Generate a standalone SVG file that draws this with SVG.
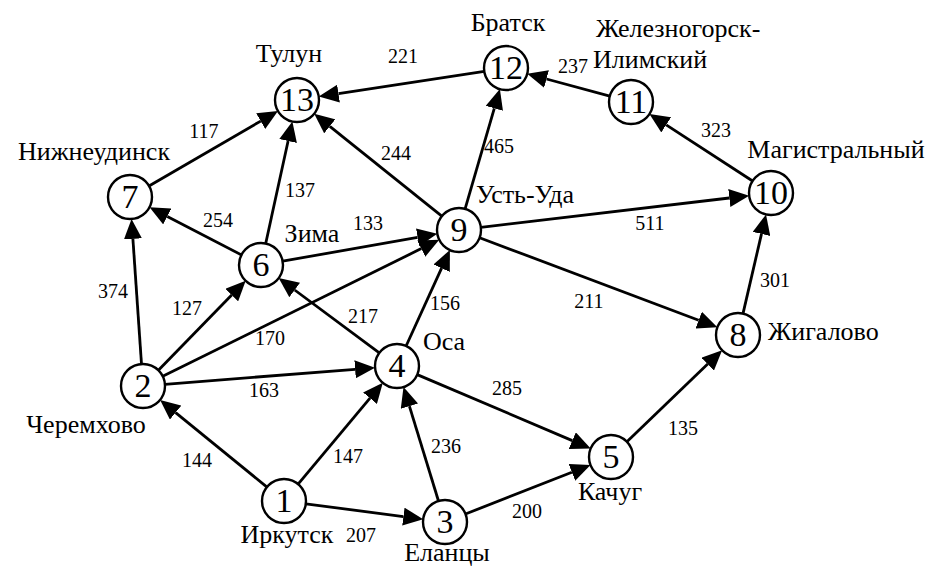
<svg xmlns="http://www.w3.org/2000/svg" width="938" height="567" viewBox="0 0 938 567" font-family="Liberation Serif">
<defs>
<marker id="ah" markerUnits="userSpaceOnUse" markerWidth="20" markerHeight="18" viewBox="0 -9 20 18" refX="0" refY="0" orient="auto">
<path d="M0,-9 L20,0 L0,9 z" fill="#000"/>
</marker>
</defs>
<rect x="0" y="0" width="938" height="567" fill="#fff"/>
<g id="connectors" stroke="#000" stroke-width="2.8" fill="none" marker-end="url(#ah)">
<line x1="484.3" y1="71.3" x2="338.5" y2="93.6"/>
<line x1="609.8" y1="96.2" x2="546.5" y2="79.0"/>
<line x1="752.6" y1="181.0" x2="666.2" y2="124.9"/>
<line x1="465.1" y1="208.9" x2="494.3" y2="108.3"/>
<line x1="441.8" y1="216.2" x2="329.8" y2="126.3"/>
<line x1="480.8" y1="227.4" x2="729.3" y2="198.0"/>
<line x1="479.6" y1="237.7" x2="698.7" y2="320.2"/>
<line x1="743.0" y1="313.6" x2="761.5" y2="233.9"/>
<line x1="149.0" y1="186.0" x2="260.7" y2="121.1"/>
<line x1="265.7" y1="243.5" x2="288.1" y2="141.0"/>
<line x1="241.5" y1="254.9" x2="167.3" y2="216.4"/>
<line x1="282.7" y1="261.2" x2="417.6" y2="237.3"/>
<line x1="141.5" y1="364.0" x2="132.9" y2="238.9"/>
<line x1="158.4" y1="370.2" x2="231.7" y2="295.1"/>
<line x1="162.7" y1="376.3" x2="421.3" y2="248.6"/>
<line x1="164.9" y1="384.3" x2="355.1" y2="369.3"/>
<line x1="379.3" y1="352.9" x2="294.7" y2="290.0"/>
<line x1="406.1" y1="346.0" x2="441.6" y2="268.2"/>
<line x1="417.2" y1="374.6" x2="572.3" y2="440.6"/>
<line x1="267.0" y1="487.1" x2="175.6" y2="412.6"/>
<line x1="298.1" y1="484.1" x2="370.0" y2="398.2"/>
<line x1="305.8" y1="503.8" x2="403.4" y2="516.6"/>
<line x1="438.5" y1="501.0" x2="409.4" y2="406.2"/>
<line x1="465.5" y1="514.0" x2="571.9" y2="472.3"/>
<line x1="626.9" y1="441.8" x2="707.7" y2="364.1"/>
</g>
<g id="weights" fill="#000" font-family="Liberation Serif" font-size="20" text-anchor="middle">
<text x="403" y="63">221</text>
<text x="573" y="73">237</text>
<text x="716" y="137">323</text>
<text x="499" y="153">465</text>
<text x="204" y="138">117</text>
<text x="396" y="160">244</text>
<text x="300" y="197">137</text>
<text x="218" y="227">254</text>
<text x="368" y="230">133</text>
<text x="650" y="230">511</text>
<text x="775" y="287">301</text>
<text x="113" y="298">374</text>
<text x="589" y="308">211</text>
<text x="187" y="315">127</text>
<text x="445" y="310">156</text>
<text x="363" y="323">217</text>
<text x="270" y="345">170</text>
<text x="264" y="397">163</text>
<text x="507" y="395">285</text>
<text x="683" y="435">135</text>
<text x="446" y="453">236</text>
<text x="348" y="463">147</text>
<text x="197" y="467">144</text>
<text x="527" y="518">200</text>
<text x="361" y="542">207</text>
</g>
<g id="nodes" font-family="Liberation Serif" font-size="34" text-anchor="middle">
<g id="node1"><circle cx="284" cy="501" r="22" fill="#fff" stroke="#000" stroke-width="2.4"/><text x="284" y="512">1</text></g>
<g id="node2"><circle cx="143" cy="386" r="22" fill="#fff" stroke="#000" stroke-width="2.4"/><text x="143" y="397">2</text></g>
<g id="node3"><circle cx="445" cy="522" r="22" fill="#fff" stroke="#000" stroke-width="2.4"/><text x="445" y="533">3</text></g>
<g id="node4"><circle cx="397" cy="366" r="22" fill="#fff" stroke="#000" stroke-width="2.4"/><text x="397" y="377">4</text></g>
<g id="node5"><circle cx="611" cy="457" r="22" fill="#fff" stroke="#000" stroke-width="2.4"/><text x="611" y="468">5</text></g>
<g id="node6"><circle cx="261" cy="265" r="22" fill="#fff" stroke="#000" stroke-width="2.4"/><text x="261" y="276">6</text></g>
<g id="node7"><circle cx="130" cy="197" r="22" fill="#fff" stroke="#000" stroke-width="2.4"/><text x="130" y="208">7</text></g>
<g id="node8"><circle cx="738" cy="335" r="22" fill="#fff" stroke="#000" stroke-width="2.4"/><text x="738" y="346">8</text></g>
<g id="node9"><circle cx="459" cy="230" r="22" fill="#fff" stroke="#000" stroke-width="2.4"/><text x="459" y="241">9</text></g>
<g id="node10"><circle cx="771" cy="193" r="22" fill="#fff" stroke="#000" stroke-width="2.4"/><text x="771" y="204">10</text></g>
<g id="node11"><circle cx="631" cy="102" r="22" fill="#fff" stroke="#000" stroke-width="2.4"/><text x="631" y="113">11</text></g>
<g id="node12"><circle cx="506" cy="68" r="22" fill="#fff" stroke="#000" stroke-width="2.4"/><text x="506" y="79">12</text></g>
<g id="node13"><circle cx="297" cy="100" r="22" fill="#fff" stroke="#000" stroke-width="2.4"/><text x="297" y="111">13</text></g>
</g>
<g id="labels" fill="#000" font-family="Liberation Serif" font-size="26" text-anchor="middle">
<text x="508" y="31">Братск</text>
<text x="596" y="37" text-anchor="start">Железногорск-</text>
<text x="593" y="68" text-anchor="start">Илимский</text>
<text x="289" y="62">Тулун</text>
<text x="94" y="160">Нижнеудинск</text>
<text x="836" y="158">Магистральный</text>
<text x="525" y="203">Усть-Уда</text>
<text x="312" y="242">Зима</text>
<text x="444" y="350">Оса</text>
<text x="768" y="340" text-anchor="start">Жигалово</text>
<text x="86" y="433">Черемхово</text>
<text x="610" y="500">Качуг</text>
<text x="287" y="543">Иркутск</text>
<text x="447" y="561">Еланцы</text>
</g>
</svg>
